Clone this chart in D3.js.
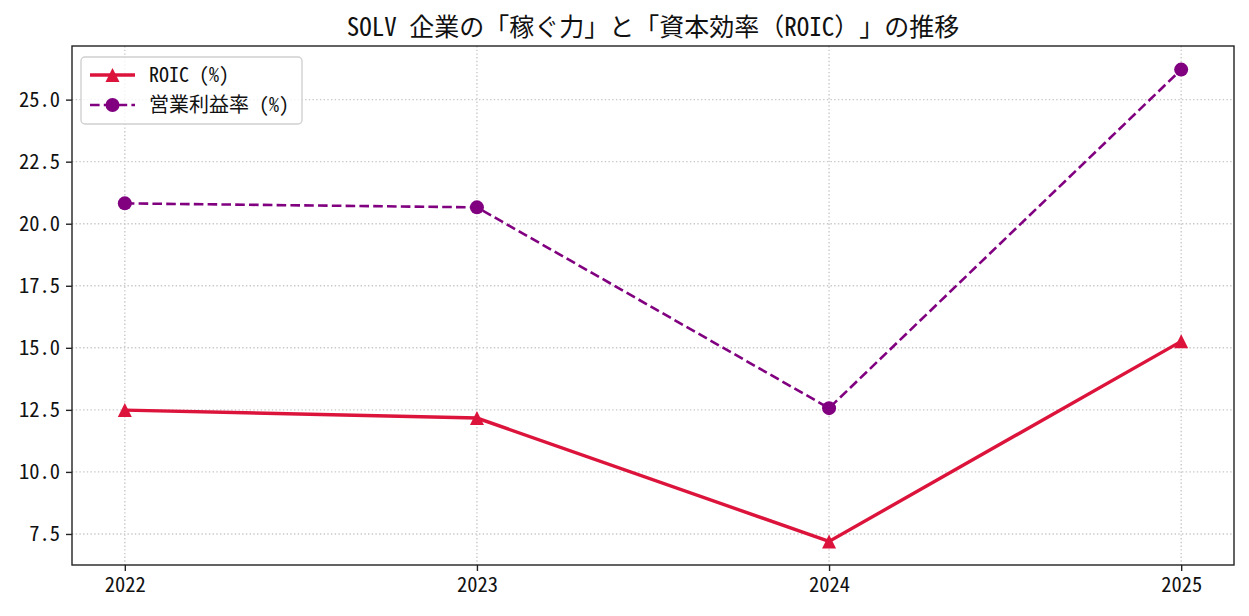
<!DOCTYPE html>
<html><head><meta charset="utf-8">
<script src="https://cdn.jsdelivr.net/npm/d3@7"></script>
<style>
body{margin:0;background:#fff;}
svg{font-family:"Noto Sans CJK JP","Noto Sans",sans-serif;text-spacing-trim:space-all;}
.hw{font-feature-settings:"hwid" 1;}
</style></head>
<body><svg id="c" width="1249" height="616"></svg>
<script>
const years = [2022, 2023, 2024, 2025];
const roic = [12.49, 12.17, 7.2, 15.26];
const opMargin = [20.82, 20.66, 12.57, 26.21];
const yTicks = [7.5, 10.0, 12.5, 15.0, 17.5, 20.0, 22.5, 25.0];
const titleText = "SOLV 企業の「稼ぐ力」と「資本効率（ROIC）」の推移";
const seriesNames = ["ROIC (%)", "営業利益率 (%)"];

const svg = d3.select("#c");
const L = 72, R = 1234, T = 46, B = 565;

// split text into ASCII (half-width) and other runs
function runs(str) {
  const out = [];
  for (const ch of str) {
    const a = ch.charCodeAt(0) < 128;
    if (out.length && out[out.length - 1].a === a) out[out.length - 1].t += ch;
    else out.push({ a, t: ch });
  }
  return out;
}
function fillText(sel, str) {
  sel.selectAll("tspan").data(runs(str)).enter().append("tspan")
    .attr("class", d => d.a ? "hw" : null).text(d => d.t);
}

const allV = roic.concat(opMargin);
const vmin = d3.min(allV), vmax = d3.max(allV), pad = (vmax - vmin) * 0.05;
const x = d3.scaleLinear().domain([2022 - 0.15, 2025 + 0.15]).range([L, R]);
const y = d3.scaleLinear().domain([vmin - pad, vmax + pad]).range([B, T]);

// grid
const g = svg.append("g");
g.selectAll(".gx").data(years).enter().append("line")
  .attr("x1", d => x(d)).attr("x2", d => x(d)).attr("y1", T).attr("y2", B)
  .attr("stroke", "#c8c8c8").attr("stroke-width", 1.4).attr("stroke-dasharray", "1.4,2.3");
g.selectAll(".gy").data(yTicks).enter().append("line")
  .attr("x1", L).attr("x2", R).attr("y1", d => y(d)).attr("y2", d => y(d))
  .attr("stroke", "#c8c8c8").attr("stroke-width", 1.4).attr("stroke-dasharray", "1.4,2.3");

// axes
const xAxis = d3.axisBottom(x).tickValues(years).tickFormat(d3.format("d")).tickSize(6).tickPadding(6);
const yAxis = d3.axisLeft(y).tickValues(yTicks).tickFormat(d3.format(".1f")).tickSize(6).tickPadding(6);
const gx = svg.append("g").attr("transform", `translate(0,${B})`).call(xAxis);
const gy = svg.append("g").attr("transform", `translate(${L},0)`).call(yAxis);
[gx, gy].forEach(a => {
  a.attr("font-family", null).attr("font-size", null);
  a.select(".domain").remove();
  a.selectAll(".tick line").attr("stroke", "#222").attr("stroke-width", 1.4);
  a.selectAll(".tick text").attr("fill", "#111").attr("class", "hw").style("font-size", "20.5px");
});

// frame
svg.append("rect").attr("x", L).attr("y", T).attr("width", R - L).attr("height", B - T)
  .attr("fill", "none").attr("stroke", "#222").attr("stroke-width", 1.4);

// lines
const line = d3.line().x((d, i) => x(years[i])).y(d => y(d));
svg.append("path").datum(opMargin).attr("d", line).attr("fill", "none")
  .attr("stroke", "#800080").attr("stroke-width", 2.6).attr("stroke-dasharray", "9.6,4.2");
svg.append("path").datum(roic).attr("d", line).attr("fill", "none")
  .attr("stroke", "#dc143c").attr("stroke-width", 3.4);

const s = 14;
const tri = `M0,${-s / 2}L${s / 2},${s / 2}L${-s / 2},${s / 2}Z`;
svg.selectAll(".tri").data(roic).enter().append("path")
  .attr("d", tri).attr("transform", (d, i) => `translate(${x(years[i])},${y(d)})`)
  .attr("fill", "#dc143c");
svg.selectAll(".dot").data(opMargin).enter().append("circle")
  .attr("cx", (d, i) => x(years[i])).attr("cy", d => y(d)).attr("r", 7)
  .attr("fill", "#800080");

// title
const title = svg.append("text").attr("x", (L + R) / 2).attr("y", 36).attr("text-anchor", "middle")
  .style("font-size", "25px").attr("fill", "#111");
fillText(title, titleText);

// legend
const lg = svg.append("g").attr("transform", "translate(81,57)");
lg.append("rect").attr("width", 221).attr("height", 67).attr("rx", 4)
  .attr("fill", "white").attr("fill-opacity", 0.8).attr("stroke", "#d0d0d0").attr("stroke-width", 1.4);
lg.append("line").attr("x1", 9).attr("x2", 54).attr("y1", 18).attr("y2", 18)
  .attr("stroke", "#dc143c").attr("stroke-width", 3.4);
lg.append("path").attr("d", tri).attr("transform", "translate(31.5,18)").attr("fill", "#dc143c");
lg.append("line").attr("x1", 9).attr("x2", 54).attr("y1", 48).attr("y2", 48)
  .attr("stroke", "#800080").attr("stroke-width", 2.6).attr("stroke-dasharray", "9.6,4.2");
lg.append("circle").attr("cx", 31.5).attr("cy", 48).attr("r", 7).attr("fill", "#800080");
lg.selectAll(".lt").data(seriesNames).enter().append("text")
  .attr("x", 68).attr("y", (d, i) => 25 + i * 30).style("font-size", "20px").attr("fill", "#111")
  .each(function (d) { fillText(d3.select(this), d); });
</script></body></html>
